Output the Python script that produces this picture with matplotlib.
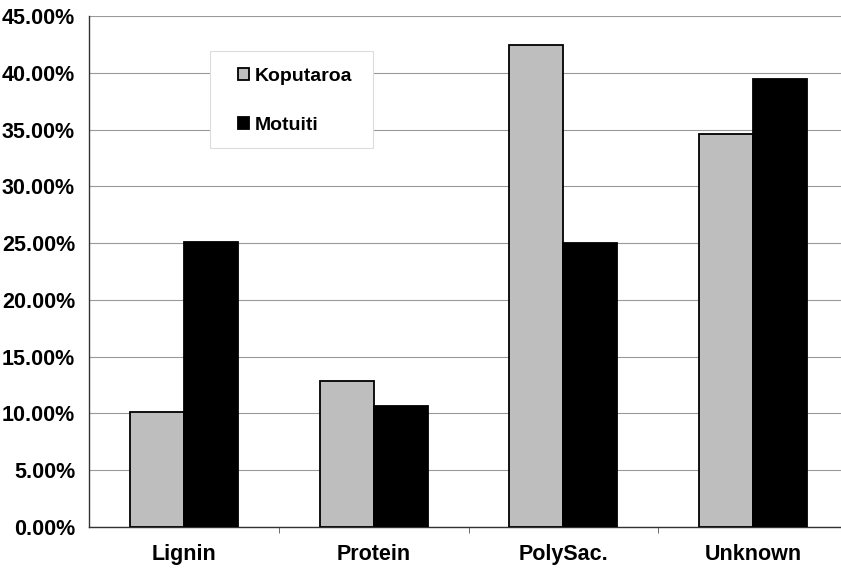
import matplotlib.pyplot as plt
import numpy as np
from matplotlib.patches import Rectangle
from matplotlib.ticker import FuncFormatter, FixedLocator

plt.rcParams["font.family"] = ["Liberation Sans", "DejaVu Sans"]
plt.rcParams["font.weight"] = "bold"

categories = ["Lignin", "Protein", "PolySac.", "Unknown"]
koputaroa = [10.1, 12.85, 42.45, 34.6]
motuiti = [25.1, 10.65, 25.0, 39.45]

W, H = 841, 568
fig = plt.figure(figsize=(W / 100, H / 100), dpi=100)
ax = fig.add_axes([89 / W, 41 / H, 759 / W, 511 / H])

x = np.arange(len(categories))
width = 0.285
ax.bar(x - width / 2, koputaroa, width, color="#bebebe", edgecolor="black",
       linewidth=1.3, label="Koputaroa", zorder=3)
ax.bar(x + width / 2, motuiti, width, color="black", edgecolor="black",
       linewidth=1.3, label="Motuiti", zorder=3)

ax.set_xlim(-0.5, 3.5)
ax.set_ylim(0, 45)
ax.set_yticks(np.arange(0, 46, 5))
ax.yaxis.set_major_formatter(FuncFormatter(lambda v, _: f"{v:.2f}%"))
ax.grid(axis="y", color="#9a9a9a", linewidth=0.8, zorder=0)

ax.set_xticks(x)
ax.set_xticklabels(categories)
ax.xaxis.set_minor_locator(FixedLocator(x[:-1] + 0.5))
ax.tick_params(axis="x", which="major", length=0, pad=12, labelsize=15.5)
ax.tick_params(axis="x", which="minor", length=4, direction="out", color="#555555")
ax.tick_params(axis="y", length=0, pad=10, labelsize=15.5)

for side in ("top", "right"):
    ax.spines[side].set_visible(False)
for side in ("left", "bottom"):
    ax.spines[side].set_color("#333333")
    ax.spines[side].set_linewidth(1.0)

# white legend panel with a faint border, legend entries placed inside it
panel = Rectangle((210 / W, 1 - 148 / H), 163 / W, 97 / H, transform=fig.transFigure,
                  facecolor="white", edgecolor="#dcdcdc", linewidth=0.8, zorder=4)
ax.add_patch(panel)
leg = ax.legend(loc="upper left", bbox_to_anchor=(238 / W, 1 - 68 / H),
                bbox_transform=fig.transFigure, frameon=False, fontsize=14,
                handlelength=0.55, handleheight=0.55, handletextpad=0.3,
                labelspacing=1.65, borderpad=0, borderaxespad=0)
leg.set_zorder(5)

fig.savefig("out.png", dpi=100)
